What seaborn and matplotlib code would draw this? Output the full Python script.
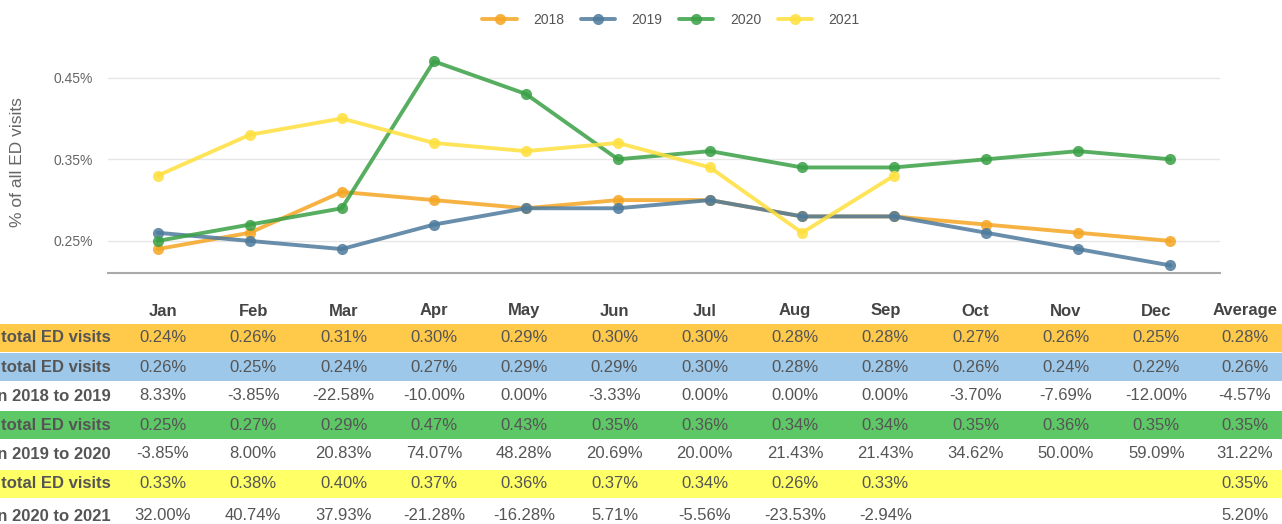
import seaborn as sns
import matplotlib.pyplot as plt
import pandas as pd
from matplotlib.patches import Rectangle
from matplotlib.lines import Line2D

months = ["Jan", "Feb", "Mar", "Apr", "May", "Jun", "Jul", "Aug", "Sep", "Oct", "Nov", "Dec"]
pct_2018 = [0.24, 0.26, 0.31, 0.30, 0.29, 0.30, 0.30, 0.28, 0.28, 0.27, 0.26, 0.25]
pct_2019 = [0.26, 0.25, 0.24, 0.27, 0.29, 0.29, 0.30, 0.28, 0.28, 0.26, 0.24, 0.22]
pct_2020 = [0.25, 0.27, 0.29, 0.47, 0.43, 0.35, 0.36, 0.34, 0.34, 0.35, 0.36, 0.35]
pct_2021 = [0.33, 0.38, 0.40, 0.37, 0.36, 0.37, 0.34, 0.26, 0.33]
chg_18_19 = [8.33, -3.85, -22.58, -10.00, 0.00, -3.33, 0.00, 0.00, 0.00, -3.70, -7.69, -12.00]
chg_19_20 = [-3.85, 8.00, 20.83, 74.07, 48.28, 20.69, 20.00, 21.43, 21.43, 34.62, 50.00, 59.09]
chg_20_21 = [32.00, 40.74, 37.93, -21.28, -16.28, 5.71, -5.56, -23.53, -2.94]
averages = [0.28, 0.26, -4.57, 0.35, 31.22, 0.35, 5.20]
years = ["2018", "2019", "2020", "2021"]
colors = {"2018": "#F5A623", "2019": "#4D7A9C", "2020": "#39A045", "2021": "#FFE03D"}

sns.set_style("white")
plt.rcParams["font.family"] = ["Liberation Sans", "DejaVu Sans"]

W, H = 1282, 524
fig = plt.figure(figsize=(W / 100, H / 100), dpi=100)

def fx(px):
    return px / W

def fy(py):
    return 1 - py / H

# line chart
ax = fig.add_axes([fx(108), fy(273), fx(1220) - fx(108), fy(45) - fy(273)])
rows = []
for yr, vals in zip(years, [pct_2018, pct_2019, pct_2020, pct_2021]):
    for i, v in enumerate(vals):
        rows.append({"year": yr, "m": i, "v": v})
df = pd.DataFrame(rows)
for yr in years:
    sns.lineplot(data=df[df.year == yr], x="m", y="v", color=colors[yr], marker="o",
                 markersize=8, markeredgewidth=0, linewidth=2.8, alpha=0.85, ax=ax)

ax.set_xlim(-0.54, 11.54)
ax.set_ylim(0.2107, 0.49)
ax.set_yticks([0.25, 0.35, 0.45])
ax.set_yticklabels(["0.25%", "0.35%", "0.45%"], color="#666666", fontsize=10)
ax.set_xticks(range(12))
ax.set_xticklabels([])
ax.tick_params(axis="x", length=6, color="#aaaaaa", width=1, direction="out")
ax.tick_params(axis="y", length=0, pad=11)
ax.grid(axis="y", color="#e6e6e6", linewidth=1)
for s in ["top", "right", "left"]:
    ax.spines[s].set_visible(False)
ax.spines["bottom"].set_color("#aaaaaa")
ax.spines["bottom"].set_linewidth(1.5)
ax.set_xlabel("")
ax.set_ylabel("")
fig.text(fx(18), fy(162), "% of all ED visits", rotation=90, ha="center", va="center",
         color="#666666", fontsize=12.5)

handles = [Line2D([0], [0], color=colors[y], marker="o", markersize=8, markeredgewidth=0,
                  linewidth=2.8, alpha=0.85) for y in years]
fig.legend(handles, years, loc="center", bbox_to_anchor=(fx(671), fy(20)), ncol=4,
           frameon=False, fontsize=10, handlelength=2.45, columnspacing=1.2,
           handletextpad=1.2, labelcolor="#555555")

# table
col_x = [163 + i * 90.3 for i in range(12)]
avg_x = 1245
row_y = [338, 367, 396, 425, 454, 484, 516]
row_bg = ["#FFC94A", "#9DC8EA", None, "#5DC865", None, "#FFFF66", None]
row_labels = ["2018 % of total ED visits", "2019 % of total ED visits",
              "% Change in 2018 to 2019", "2020 % of total ED visits",
              "% Change in 2019 to 2020", "2021 % of total ED visits",
              "% Change in 2020 to 2021"]
row_vals = [pct_2018, pct_2019, chg_18_19, pct_2020, chg_19_20, pct_2021, chg_20_21]
txt = "#555555"
fs = 12

for i, m in enumerate(months):
    fig.text(fx(col_x[i]), fy(311), m, ha="center", va="center", fontsize=fs,
             fontweight="bold", color="#444444")
fig.text(fx(avg_x), fy(311), "Average", ha="center", va="center", fontsize=fs,
         fontweight="bold", color="#444444")

for r in range(len(row_y)):
    yc = row_y[r]
    if row_bg[r]:
        fig.patches.append(Rectangle((0, fy(yc + 14.3)), 1, 28.6 / H, transform=fig.transFigure,
                                     facecolor=row_bg[r], edgecolor="none", zorder=0))
    fig.text(fx(111), fy(yc), row_labels[r], ha="right", va="center", fontsize=fs,
             fontweight="bold", color=txt)
    for i, v in enumerate(row_vals[r]):
        fig.text(fx(col_x[i]), fy(yc), f"{v:.2f}%", ha="center", va="center",
                 fontsize=fs, color=txt)
    fig.text(fx(avg_x), fy(yc), f"{averages[r]:.2f}%", ha="center", va="center",
             fontsize=fs, color=txt)

fig.savefig("out.png", dpi=100)
